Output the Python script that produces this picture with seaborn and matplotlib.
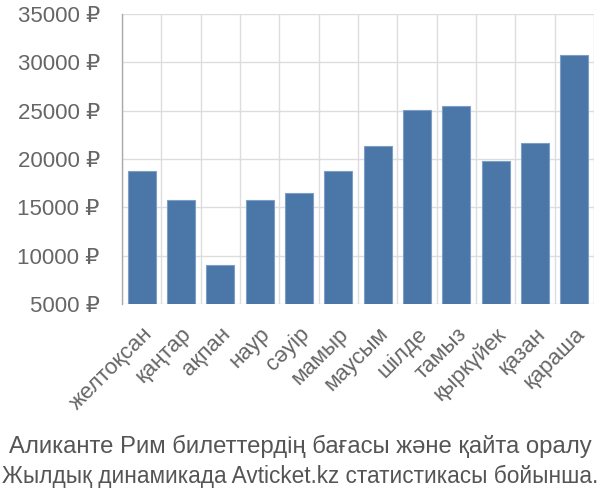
import matplotlib
matplotlib.use("Agg")
import matplotlib.pyplot as plt
import matplotlib.transforms as mtransforms
import seaborn as sns
import pandas as pd
import numpy as np

months = ["желтоқсан", "қаңтар", "ақпан", "наур", "сәуір", "мамыр",
          "маусым", "шілде", "тамыз", "қыркүйек", "қазан", "қараша"]
prices = [18800, 15800, 9000, 15800, 16500, 18800,
          21350, 25100, 25500, 19800, 21700, 30750]
yticks = [5000, 10000, 15000, 20000, 25000, 30000, 35000]
title_lines = ["Аликанте Рим билеттердің бағасы және қайта оралу",
               "Жылдық динамикада Avticket.kz статистикасы бойынша."]

sns.set_theme(style="white")
plt.rcParams['font.family'] = ['Liberation Sans', 'DejaVu Sans']

df = pd.DataFrame({"month": months, "price": prices})

fig = plt.figure(figsize=(6, 5), dpi=100)
ax = fig.add_axes([122/600, 1-304/500, (594-122)/600, (304-14)/500])

sns.barplot(data=df, x="month", y="price", ax=ax, color="#4a76a8",
            saturation=1, width=0.72, edgecolor="#7d9ec6", linewidth=0.8,
            zorder=3)

ax.set_ylim(5000, 35000)
ax.set_xlim(-0.5, len(months) - 0.5)
ax.set_yticks(yticks)
ax.set_yticklabels([f"{v} ₽" for v in yticks], fontsize=16, color="#666666")
ax.set_xticks(range(len(months)))
ax.set_xticklabels(months, rotation=45, ha="right", rotation_mode="anchor",
                   fontsize=16, color="#666666")
offset = mtransforms.ScaledTranslation(2/72, 0, fig.dpi_scale_trans)
for lab in ax.get_xticklabels():
    lab.set_transform(lab.get_transform() + offset)
ax.set_xticks(np.arange(-0.5, len(months), 1), minor=True)
ax.tick_params(axis="x", which="major", length=0, pad=14)
ax.tick_params(axis="x", which="minor", length=14, color="#dddddd", width=1)
ax.tick_params(axis="y", length=14, color="#dddddd", width=1, pad=2)
ax.grid(axis="y", which="major", color="#dddddd", linewidth=1, zorder=0)
ax.grid(axis="x", which="minor", color="#dddddd", linewidth=1, zorder=0)
ax.set_axisbelow(True)
ax.set_xlabel("")
ax.set_ylabel("")
for s in ["top", "right", "bottom"]:
    ax.spines[s].set_visible(False)
ax.spines["left"].set_color("#aaaaaa")
ax.spines["left"].set_linewidth(1)

tfam = ['Liberation Sans', 'DejaVu Sans']
fig.text(0.5, 1-446/500, title_lines[0], ha="center", va="center",
         fontsize=17.2, color="#555555", family=tfam)
fig.text(0.5, 1-476/500, title_lines[1], ha="center", va="center",
         fontsize=16.3, color="#555555", family=tfam)

fig.savefig("out.png", dpi=100)
